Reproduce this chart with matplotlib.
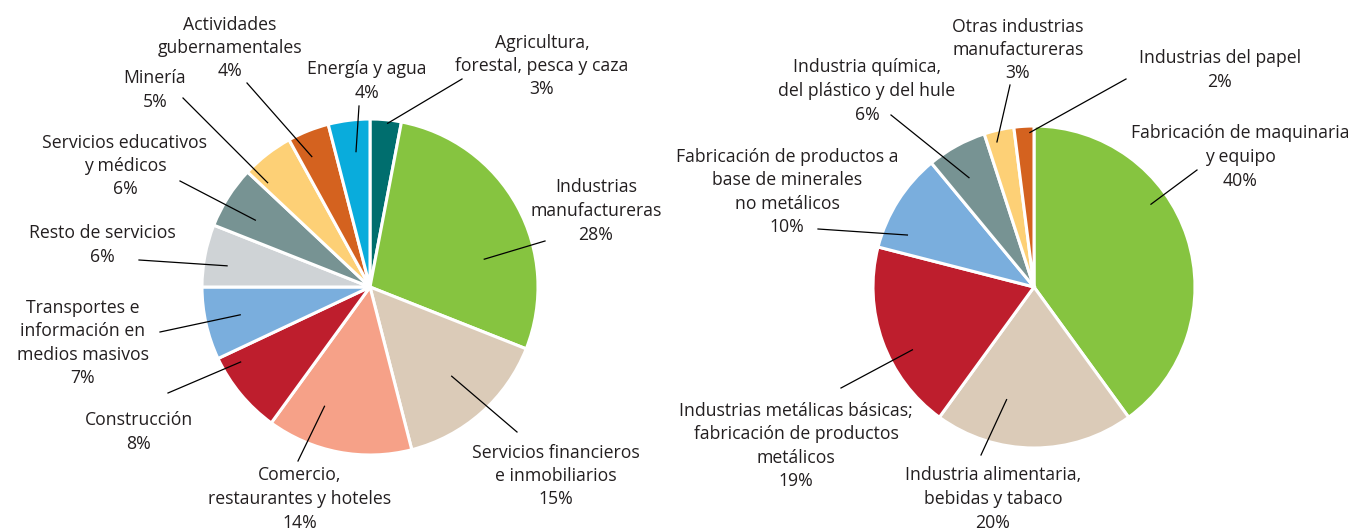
import numpy as np
import matplotlib
matplotlib.use("Agg")
import matplotlib.pyplot as plt

W, H = 1361, 529

# left pie: GDP composition by sector
left_labels = ["Agricultura,\nforestal, pesca y caza", "Industrias\nmanufactureras",
               "Servicios financieros\ne inmobiliarios", "Comercio,\nrestaurantes y hoteles",
               "Construcción", "Transportes e\ninformación en\nmedios masivos",
               "Resto de servicios", "Servicios educativos\ny médicos", "Minería",
               "Actividades\ngubernamentales", "Energía y agua"]
left_values = [3, 28, 15, 14, 8, 7, 6, 6, 5, 4, 4]
left_colors = ["#006e6e", "#86c440", "#dbcbb8", "#f6a188", "#be1e2d", "#7aaedd",
               "#cfd3d6", "#779393", "#fdd076", "#d4621f", "#09acdc"]

# right pie: manufacturing breakdown
right_labels = ["Fabricación de maquinaria\ny equipo", "Industria alimentaria,\nbebidas y tabaco",
                "Industrias metálicas básicas;\nfabricación de productos\nmetálicos",
                "Fabricación de productos a\nbase de minerales\nno metálicos",
                "Industria química,\ndel plástico y del hule",
                "Otras industrias\nmanufactureras", "Industrias del papel"]
right_values = [40, 20, 19, 10, 6, 3, 2]
right_colors = ["#86c440", "#dbcbb8", "#be1e2d", "#7aaedd", "#779393", "#fdd076", "#d4621f"]

# layout (pixel coords, y from top): text centre, leader start, leader end (t along wedge, r)
left_text = [(542, 64), (596, 209), (556, 474), (300, 497), (139, 430), (83, 341),
             (102, 243), (125, 164), (155, 88), (230, 46), (367, 79)]
left_start = [(462, 79), (545, 241), (517, 432), (298, 461), (168, 393), (160, 332),
              (139, 260), (180, 181), (183, 98), (247, 83), (359, 106)]
left_end = [(0.57, 0.98), (0.65, 0.70), (0.48, 0.72), (0.70, 0.76), (0.83, 0.89), (0.52, 0.79),
            (0.39, 0.86), (0.40, 0.79), (0.13, 0.87), (0.33, 0.85), (0.59, 0.81)]

right_text = [(1240, 155), (993, 497), (796, 444), (787, 190), (867, 89), (1018, 48), (1220, 68)]
right_start = [(1197, 170), (981, 455), (841, 388), (818, 229), (891, 115), (1010, 85), (1126, 79)]
right_end = [(0.38, 0.89), (0.69, 0.72), (0.39, 0.85), (0.22, 0.85), (0.41, 0.79),
             (0.34, 0.93), (0.79, 0.96)]

LINE_H = 23.5  # px between label lines

plt.rcParams['font.family'] = ['Open Sans', 'DejaVu Sans']
fig = plt.figure(figsize=(W / 100, H / 100), dpi=100)
ax = fig.add_axes([0, 0, 1, 1])


def draw(values, colors, labels, center, radius, texts, starts, ends):
    cx, cy = center[0], H - center[1]
    wedges, _ = ax.pie(values, colors=colors, startangle=90, counterclock=False,
                       center=(cx, cy), radius=radius,
                       wedgeprops=dict(edgecolor="white", linewidth=2.2))
    for w, lab, v, (tx, ty), (sx, sy), (t, r) in zip(wedges, labels, values, texts, starts, ends):
        ang = np.radians(w.theta2 - t * (w.theta2 - w.theta1))
        ex, ey = cx + r * radius * np.cos(ang), cy + r * radius * np.sin(ang)
        ax.plot([sx, ex], [H - sy, ey], color="black", lw=0.9)
        # one text per line so stacked labels keep exact spacing
        lines = lab.split("\n") + [f"{v}%"]
        n = len(lines)
        for i, s in enumerate(lines):
            y = ty + (i - (n - 1) / 2) * LINE_H
            ax.text(tx, H - y, s, ha="center", va="center_baseline",
                    fontsize=12.7, color="#231f20")


draw(left_values, left_colors, left_labels, (370, 287), 168, left_text, left_start, left_end)
draw(right_values, right_colors, right_labels, (1034, 287), 161, right_text, right_start, right_end)

ax.set_xlim(0, W)
ax.set_ylim(0, H)
ax.set_aspect("auto")
ax.axis("off")

fig.savefig("out.png", dpi=100)
